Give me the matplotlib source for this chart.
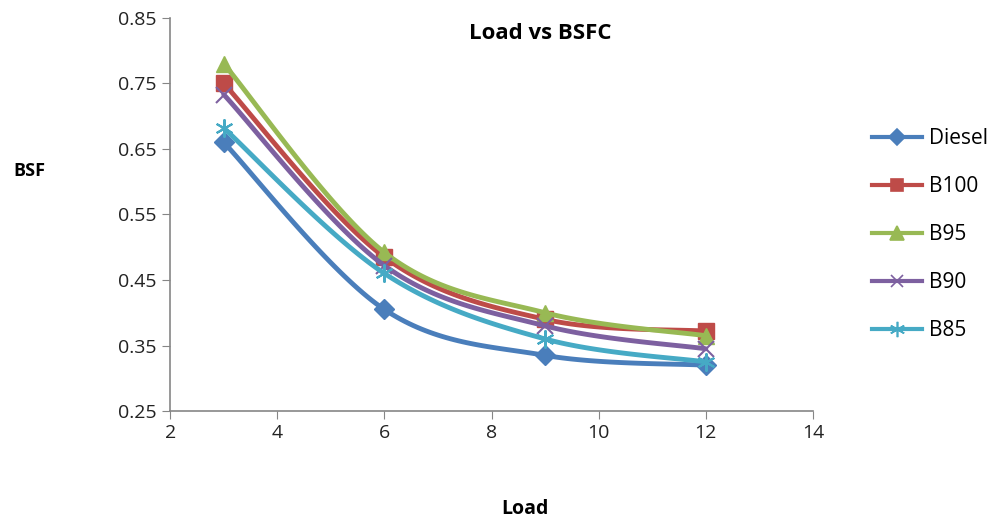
import numpy as np
import matplotlib
matplotlib.use("Agg")
import matplotlib.pyplot as plt

plt.rcParams['font.family'] = ['Open Sans', 'DejaVu Sans']

load = [3, 6, 9, 12]
diesel = [0.66, 0.405, 0.335, 0.32]
b100 = [0.75, 0.485, 0.39, 0.372]
b95 = [0.78, 0.492, 0.40, 0.365]
b90 = [0.733, 0.472, 0.38, 0.345]
b85 = [0.682, 0.46, 0.36, 0.325]

names = ["Diesel", "B100", "B95", "B90", "B85"]
colors = ["#4A7EBB", "#BE4B48", "#98B954", "#7D60A0", "#46AAC5"]
markers = ["D", "s", "^", "x", "*"]


def smooth(xs, ys, n=40):
    # excel-like smoothing: cubic bezier with catmull-rom control points
    xs = np.asarray(xs, float)
    ys = np.asarray(ys, float)
    px = np.concatenate([[xs[0]], xs, [xs[-1]]])
    py = np.concatenate([[ys[0]], ys, [ys[-1]]])
    ox, oy = [], []
    t = np.linspace(0, 1, n)
    for i in range(1, len(px) - 2):
        p0 = np.array([px[i], py[i]])
        p3 = np.array([px[i + 1], py[i + 1]])
        p1 = p0 + (np.array([px[i + 1], py[i + 1]]) - np.array([px[i - 1], py[i - 1]])) / 6
        p2 = p3 - (np.array([px[i + 2], py[i + 2]]) - np.array([px[i], py[i]])) / 6
        pts = ((1 - t) ** 3)[:, None] * p0 + (3 * (1 - t) ** 2 * t)[:, None] * p1 \
            + (3 * (1 - t) * t ** 2)[:, None] * p2 + (t ** 3)[:, None] * p3
        ox.extend(pts[:, 0])
        oy.extend(pts[:, 1])
    return ox, oy


fig = plt.figure(figsize=(9.95, 5.25), dpi=100)
ax = fig.add_axes([0.171, 0.217, 0.646, 0.749])

series = [diesel, b100, b95, b90, b85]
sizes = {"D": 10, "s": 11, "^": 12, "x": 11, "*": 13}
for name, ys, c, m in zip(names, series, colors, markers):
    sx, sy = smooth(load, ys)
    ax.plot(sx, sy, color=c, lw=3.5, solid_capstyle='round')
    mk = m if m != "*" else (6, 2, 0)
    ms = sizes[m]
    if m in ("x", "*"):
        ax.plot(load, ys, ls='none', marker=mk, ms=ms, mew=1.5, color=c)
    else:
        ax.plot(load, ys, ls='none', marker=mk, ms=ms, color=c, mec=c)
    ax.plot([], [], color=c, lw=3, marker=mk, ms=ms * 0.85, mew=1.2, label=name)

ax.set_xlim(2, 14)
ax.set_ylim(0.25, 0.85)
ax.set_xticks(range(2, 15, 2))
ax.set_yticks(np.arange(0.25, 0.86, 0.1))
ax.set_yticklabels(["0.25", "0.35", "0.45", "0.55", "0.65", "0.75", "0.85"])
for s in ["top", "right"]:
    ax.spines[s].set_visible(False)
for s in ["left", "bottom"]:
    ax.spines[s].set_color("#868686")
    ax.spines[s].set_linewidth(1.2)
ax.tick_params(direction='out', length=6, color="#868686", labelsize=14, labelcolor="#222222")

fig.text(0.543, 0.937, "Load vs BSFC", fontsize=16, fontweight='bold', ha='center', va='center')
fig.text(0.03, 0.675, "BSF", fontsize=13, fontweight='bold', ha='center', va='center')
fig.text(0.528, 0.03, "Load", fontsize=14, fontweight='bold', ha='center', va='center')

handles, labels = ax.get_legend_handles_labels()
fig.legend(handles, labels, loc='upper left', bbox_to_anchor=(0.858, 0.792),
           frameon=False, fontsize=15, handlelength=2.4, labelspacing=1.3,
           handletextpad=0.3)

fig.savefig("out.png", dpi=100)
